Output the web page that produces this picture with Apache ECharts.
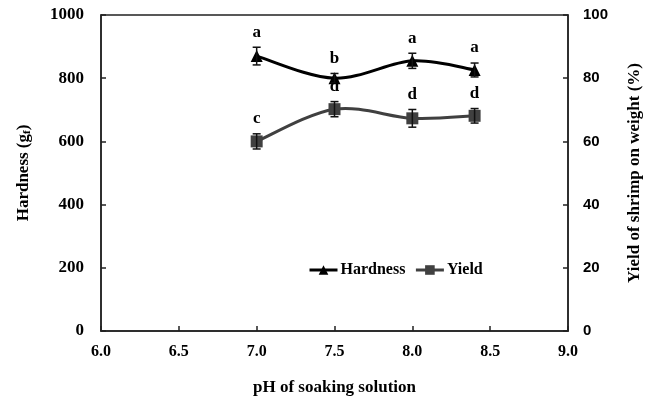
<!DOCTYPE html>
<html><head><meta charset="utf-8">
<script src="https://cdn.jsdelivr.net/npm/echarts@6/dist/echarts.min.js"></script>
<style>html,body{margin:0;padding:0;background:#fff}#c{width:655px;height:401px}</style>
</head><body><div id="c"></div>
<script>
const phValues = [7.0, 7.5, 8.0, 8.4];
const hardness = [870, 800, 855, 826];
const hardnessErr = [28, 15, 24, 22];
const hardnessLetters = ['a', 'b', 'a', 'a'];
const yieldVals = [60.0, 70.2, 67.3, 68.1];
const yieldErr = [2.4, 2.4, 2.8, 2.3];
const yieldLetters = ['c', 'd', 'd', 'd'];
const xTicks = [6.0, 6.5, 7.0, 7.5, 8.0, 8.5, 9.0];
const leftTicks = [0, 200, 400, 600, 800, 1000];
const rightTicks = [0, 20, 40, 60, 80, 100];

const serif = '"Liberation Serif","Times New Roman",serif';
const sans = '"Liberation Sans",Arial,sans-serif';

function errRender(params, api) {
  const x = api.value(0), m = api.value(1), e = api.value(2);
  const top = api.coord([x, m + e]);
  const bot = api.coord([x, m - e]);
  const cap = 4;
  const st = {stroke: '#111', lineWidth: 1.5};
  return {
    type: 'group',
    children: [
      {type: 'line', shape: {x1: top[0], y1: top[1], x2: bot[0], y2: bot[1]}, style: st},
      {type: 'line', shape: {x1: top[0]-cap, y1: top[1], x2: top[0]+cap, y2: top[1]}, style: st},
      {type: 'line', shape: {x1: bot[0]-cap, y1: bot[1], x2: bot[0]+cap, y2: bot[1]}, style: st},
      {type: 'text', style: {x: top[0], y: top[1] - 15, text: api.value(3), align: 'center', verticalAlign: 'middle',
        font: 'bold 17px ' + serif, fill: '#000'}}
    ]
  };
}

// Catmull-Rom style smoothed curve through the data points (via axis coords)
function splineRender(ys, color) {
  return function (params, api) {
    if (params.dataIndex !== 0) return null;
    const p = phValues.map((x, i) => api.coord([x, ys[i]]));
    const n = p.length;
    let d = 'M' + p[0][0] + ' ' + p[0][1];
    for (let i = 0; i < n - 1; i++) {
      const p0 = p[Math.max(i - 1, 0)], p1 = p[i], p2 = p[i + 1], p3 = p[Math.min(i + 2, n - 1)];
      const c1 = [p1[0] + (p2[0] - p0[0]) / 6, p1[1] + (p2[1] - p0[1]) / 6];
      const c2 = [p2[0] - (p3[0] - p1[0]) / 6, p2[1] - (p3[1] - p1[1]) / 6];
      d += ' C' + c1[0] + ' ' + c1[1] + ' ' + c2[0] + ' ' + c2[1] + ' ' + p2[0] + ' ' + p2[1];
    }
    return {type: 'path', shape: {pathData: d}, style: {stroke: color, lineWidth: 3, fill: null}};
  };
}

const chart = echarts.init(document.getElementById('c'));
chart.setOption({
  animation: false,
  grid: {left: 101, right: 87, top: 15, bottom: 65, show: true, borderColor: '#222', borderWidth: 1.5, backgroundColor: 'transparent'},
  legend: {
    left: 303, top: 257, itemGap: 9, itemWidth: 28, itemHeight: 12,
    textStyle: {fontFamily: serif, fontWeight: 'bold', fontSize: 16, color: '#000', padding: [0, 0, 0, -2]},
    data: [
      {name: 'Hardness', lineStyle: {opacity: 1, color: '#000', width: 3}},
      {name: 'Yield', lineStyle: {opacity: 1, color: '#404040', width: 3}}
    ]
  },
  xAxis: {
    type: 'value', min: 6, max: 9, interval: 0.5,
    name: 'pH of soaking solution', nameLocation: 'middle', nameGap: 48,
    nameTextStyle: {fontFamily: serif, fontWeight: 'bold', fontSize: 17, color: '#000'},
    axisLine: {lineStyle: {color: '#222', width: 1.5}},
    axisTick: {inside: true, length: 5, lineStyle: {color: '#222', width: 1.5}},
    axisLabel: {margin: 13, fontFamily: serif, fontWeight: 'bold', fontSize: 16, color: '#000',
      formatter: v => xTicks.includes(+v) ? (+v).toFixed(1) : ''},
    splitLine: {show: false}
  },
  yAxis: [{
    type: 'value', min: 0, max: 1000, interval: 200, position: 'left',
    name: '{a|Hardness (g}{s|f}{a|)}', nameLocation: 'middle', nameGap: 68, nameRotate: 90,
    nameTextStyle: {rich: {
      a: {fontFamily: serif, fontWeight: 'bold', fontSize: 17, color: '#000'},
      s: {fontFamily: serif, fontWeight: 'bold', fontSize: 11, color: '#000', verticalAlign: 'bottom', padding: [8, 0, 0, 0]}
    }},
    axisLine: {show: true, lineStyle: {color: '#222', width: 1.5}},
    axisTick: {show: true, inside: true, length: 5, lineStyle: {color: '#222', width: 1.5}},
    axisLabel: {margin: 17, fontFamily: serif, fontWeight: 'bold', fontSize: 17, color: '#000',
      formatter: v => leftTicks.includes(+v) ? String(v) : ''},
    splitLine: {show: false}
  }, {
    type: 'value', min: 0, max: 100, interval: 20, position: 'right',
    name: 'Yield of shrimp on weight (%)', nameLocation: 'middle', nameGap: 58, nameRotate: 90,
    nameTextStyle: {fontFamily: serif, fontWeight: 'bold', fontSize: 17, color: '#000'},
    axisLine: {show: true, lineStyle: {color: '#222', width: 1.5}},
    axisTick: {show: true, inside: true, length: 5, lineStyle: {color: '#222', width: 1.5}},
    axisLabel: {margin: 15, fontFamily: sans, fontWeight: 'bold', fontSize: 15, color: '#000',
      formatter: v => rightTicks.includes(+v) ? String(v) : ''},
    splitLine: {show: false}
  }],
  series: [
    {
      name: 'Hardness', type: 'line', yAxisIndex: 0,
      data: phValues.map((x, i) => [x, hardness[i]]),
      symbol: 'triangle', symbolSize: 12,
      lineStyle: {color: '#000', width: 3, opacity: 0},
      itemStyle: {color: '#000'}, z: 3
    },
    {
      name: 'Yield', type: 'line', yAxisIndex: 1,
      data: phValues.map((x, i) => [x, yieldVals[i]]),
      symbol: 'rect', symbolSize: 12,
      lineStyle: {color: '#404040', width: 3, opacity: 0},
      itemStyle: {color: '#404040'}, z: 3
    },
    {
      type: 'custom', yAxisIndex: 0, renderItem: splineRender(hardness, '#000'), z: 2,
      data: phValues.map((x, i) => [x, hardness[i]])
    },
    {
      type: 'custom', yAxisIndex: 1, renderItem: splineRender(yieldVals, '#404040'), z: 2,
      data: phValues.map((x, i) => [x, yieldVals[i]])
    },
    {
      type: 'custom', yAxisIndex: 0, renderItem: errRender, z: 4,
      data: phValues.map((x, i) => [x, hardness[i], hardnessErr[i], hardnessLetters[i]])
    },
    {
      type: 'custom', yAxisIndex: 1, renderItem: errRender, z: 4,
      data: phValues.map((x, i) => [x, yieldVals[i], yieldErr[i], yieldLetters[i]])
    }
  ]
});
</script></body></html>
